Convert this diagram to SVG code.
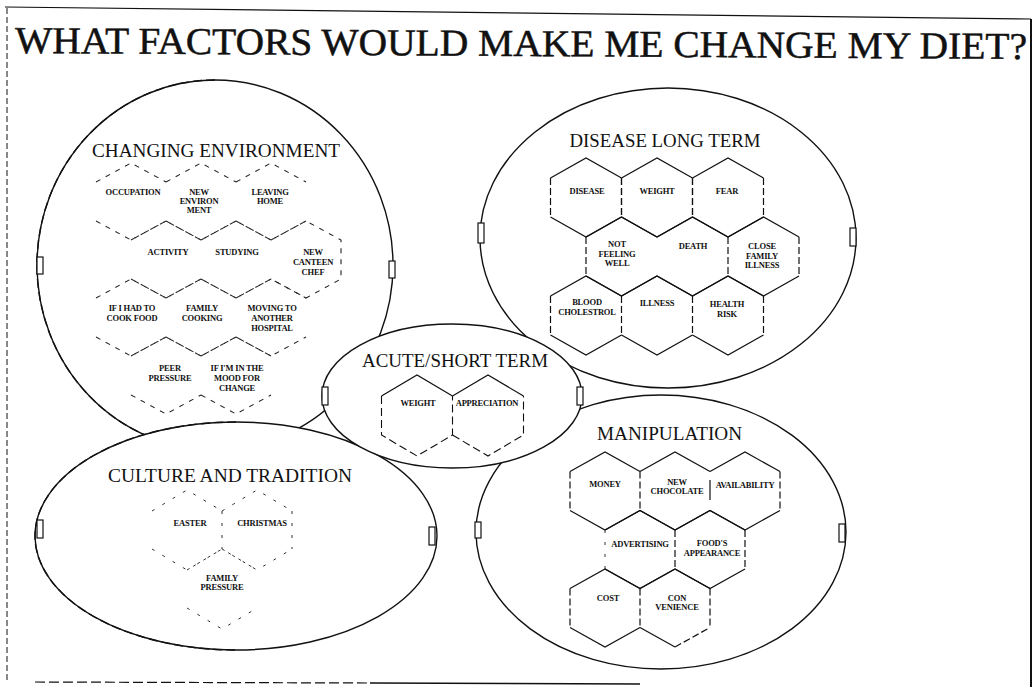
<svg xmlns="http://www.w3.org/2000/svg" width="1034" height="687" viewBox="0 0 1034 687">
<style>
.ell{fill:#fff;stroke:#111;stroke-width:1.4}
.ell-d{fill:none;stroke:#111;stroke-width:1.4;stroke-dasharray:9 4}
.hdl{fill:#fff;stroke:#111;stroke-width:1.2}
.hd{font-family:"Liberation Serif","Times New Roman",serif;font-size:19px;fill:#111;text-anchor:middle}
.lb{font-family:"Liberation Serif","Times New Roman",serif;font-size:8.5px;font-weight:bold;fill:#111;text-anchor:middle;letter-spacing:-0.2px}
.hs{fill:none;stroke:#111;stroke-width:1.2}
.hv{fill:none;stroke:#111;stroke-width:1.2;stroke-dasharray:7 3}
.cs{fill:none;stroke:#222;stroke-width:1.1;stroke-dasharray:5 6}
.fs{fill:none;stroke:#333;stroke-width:1;stroke-dasharray:3 9}
.as{fill:none;stroke:#111;stroke-width:1.1;stroke-dasharray:8 4}
.frame{fill:none;stroke:#111}
</style>

<g id="frame">
<path class="frame" d="M5,7 L1031,19" stroke-width="1.2"/>
<path class="frame" d="M1031,19 V687" stroke-width="2"/>
<path class="frame" d="M7,8 V681" stroke-width="1" stroke-dasharray="6 3"/>
<path class="frame" d="M35,682 L370,683" stroke-width="1.2" stroke-dasharray="10 4"/>
<path class="frame" d="M370,683 L640,684" stroke-width="1.6"/>
</g>

<text id="title" x="15" y="53" font-family="'Liberation Serif','Times New Roman',serif" font-size="38" fill="#111" stroke="#111" stroke-width="0.5" textLength="1012" lengthAdjust="spacingAndGlyphs" transform="rotate(0.34 15 53)">WHAT FACTORS WOULD MAKE ME CHANGE MY DIET?</text>

<g id="changing-environment">
<ellipse class="ell" cx="215" cy="265" rx="178" ry="185"/>
<path class="ell-d" d="M215,80 A178,185 0 0,0 215,450"/>
<rect class="hdl" x="37" y="257" width="6" height="17"/>
<rect class="hdl" x="389" y="261" width="6" height="17"/>
<text class="hd" x="216" y="157" textLength="248" lengthAdjust="spacingAndGlyphs">CHANGING ENVIRONMENT</text>
<g id="ce-occupation"><path class="cs" d="M96,182 L131,163 L166,182 M96,221 L131,240 L166,221"/><text class="lb" x="133" y="195">OCCUPATION</text></g>
<g id="ce-new-environment"><path class="cs" d="M166,182 L201,163 L236,182 M166,221 L201,240 L236,221"/><text class="lb" x="199" y="195">NEW</text><text class="lb" x="199" y="204">ENVIRON</text><text class="lb" x="199" y="213">MENT</text></g>
<g id="ce-leaving-home"><path class="cs" d="M236,182 L271,163 L306,182 M236,221 L271,240 L306,221"/><text class="lb" x="270" y="195">LEAVING</text><text class="lb" x="270" y="204">HOME</text></g>
<g id="ce-activity"><path class="cs" d="M131,240 L166,221 L201,240 M131,279 L166,298 L201,279"/><text class="lb" x="168" y="255">ACTIVITY</text></g>
<g id="ce-studying"><path class="cs" d="M201,240 L236,221 L271,240 M201,279 L236,298 L271,279"/><text class="lb" x="237" y="255">STUDYING</text></g>
<g id="ce-new-canteen-chef"><path class="cs" d="M271,240 L306,221 L341,240 V279 L306,298 L271,279"/><text class="lb" x="313" y="255">NEW</text><text class="lb" x="313" y="265">CANTEEN</text><text class="lb" x="313" y="275">CHEF</text></g>
<g id="ce-cook-food"><path class="cs" d="M96,298 L131,279 L166,298 M96,337 L131,356 L166,337"/><text class="lb" x="132" y="311">IF I HAD TO</text><text class="lb" x="132" y="321">COOK FOOD</text></g>
<g id="ce-family-cooking"><path class="cs" d="M166,298 L201,279 L236,298 M166,337 L201,356 L236,337"/><text class="lb" x="202" y="311">FAMILY</text><text class="lb" x="202" y="321">COOKING</text></g>
<g id="ce-moving-hospital"><path class="cs" d="M236,298 L271,279 L306,298 M236,337 L271,356 L306,337"/><text class="lb" x="272" y="311">MOVING TO</text><text class="lb" x="272" y="321">ANOTHER</text><text class="lb" x="272" y="331">HOSPITAL</text></g>
<g id="ce-peer-pressure"><path class="cs" d="M131,356 L166,337 L201,356 M131,395 L166,414 L201,395"/><text class="lb" x="170" y="371">PEER</text><text class="lb" x="170" y="381">PRESSURE</text></g>
<g id="ce-mood-change"><path class="cs" d="M201,356 L236,337 L271,356 M201,395 L236,414 L271,395"/><text class="lb" x="237" y="371">IF I'M IN THE</text><text class="lb" x="237" y="381">MOOD FOR</text><text class="lb" x="237" y="391">CHANGE</text></g>
</g>

<g id="disease-long-term">
<ellipse class="ell" cx="668" cy="238" rx="188" ry="150"/>
<rect class="hdl" x="478" y="223" width="6" height="20"/>
<rect class="hdl" x="850" y="228" width="6" height="18"/>
<text class="hd" x="665" y="147" textLength="191" lengthAdjust="spacingAndGlyphs">DISEASE LONG TERM</text>
<g id="dl-disease"><path class="hs" d="M550.5,178 L586,158 L621.5,178 M550.5,217 L586,237 L621.5,217"/><path class="hv" d="M550.5,178 V217 M621.5,178 V217"/><text class="lb" x="587" y="194">DISEASE</text></g>
<g id="dl-weight"><path class="hs" d="M621.5,178 L657,158 L692.5,178 M621.5,217 L657,237 L692.5,217"/><path class="hv" d="M621.5,178 V217 M692.5,178 V217"/><text class="lb" x="657" y="194">WEIGHT</text></g>
<g id="dl-fear"><path class="hs" d="M692.5,178 L728,158 L763.5,178 M692.5,217 L728,237 L763.5,217"/><path class="hv" d="M692.5,178 V217 M763.5,178 V217"/><text class="lb" x="727" y="194">FEAR</text></g>
<g id="dl-not-feeling-well"><path class="hs" d="M586,237 L621.5,217 L657,237 M586,276 L621.5,296 L657,276"/><path class="hv" d="M586,237 V276"/><text class="lb" x="617" y="247">NOT</text><text class="lb" x="617" y="256.5">FEELING</text><text class="lb" x="617" y="266">WELL</text></g>
<g id="dl-death"><path class="hs" d="M657,237 L692.5,217 L728,237 M657,276 L692.5,296 L728,276"/><path class="hv" d="M728,237 V276"/><text class="lb" x="693" y="249">DEATH</text></g>
<g id="dl-close-family-illness"><path class="hs" d="M728,237 L763.5,217 L799,237 M728,276 L763.5,296 L799,276"/><path class="hv" d="M799,237 V276"/><text class="lb" x="762" y="249">CLOSE</text><text class="lb" x="762" y="258.5">FAMILY</text><text class="lb" x="762" y="268">ILLNESS</text></g>
<g id="dl-blood-cholestrol"><path class="hs" d="M550.5,296 L586,276 L621.5,296 M550.5,335 L586,355 L621.5,335"/><path class="hv" d="M550.5,296 V335 M621.5,296 V335"/><text class="lb" x="587" y="305">BLOOD</text><text class="lb" x="587" y="314.5">CHOLESTROL</text></g>
<g id="dl-illness"><path class="hs" d="M621.5,296 L657,276 L692.5,296 M621.5,335 L657,355 L692.5,335"/><path class="hv" d="M692.5,296 V335"/><text class="lb" x="657" y="306">ILLNESS</text></g>
<g id="dl-health-risk"><path class="hs" d="M692.5,296 L728,276 L763.5,296 M692.5,335 L728,355 L763.5,335"/><path class="hv" d="M763.5,296 V335"/><text class="lb" x="727" y="307">HEALTH</text><text class="lb" x="727" y="316.5">RISK</text></g>
</g>

<g id="culture-and-tradition">
<ellipse class="ell" cx="236" cy="536" rx="201" ry="114"/>
<path class="ell-d" d="M236,422 A201,114 0 0,0 236,650"/>
<rect class="hdl" x="37" y="520" width="6" height="18"/>
<rect class="hdl" x="429" y="527" width="6" height="18"/>
<text class="hd" x="230" y="482" textLength="244" lengthAdjust="spacingAndGlyphs">CULTURE AND TRADITION</text>
<g id="ct-easter"><path class="fs" d="M152,511 L187,490 L222,511 M152,549 L187,570 L222,549 M222,511 V549"/><text class="lb" x="190" y="526">EASTER</text></g>
<g id="ct-christmas"><path class="fs" d="M222,511 L257,490 L292,511 M222,549 L257,570 L292,549 M292,511 V549"/><text class="lb" x="262" y="526">CHRISTMAS</text></g>
<g id="ct-family-pressure"><path class="fs" d="M187,570 L222,549 L257,570 M187,608 L222,629 L257,608"/><text class="lb" x="222" y="581">FAMILY</text><text class="lb" x="222" y="590">PRESSURE</text></g>
</g>

<g id="manipulation">
<ellipse class="ell" cx="661" cy="532" rx="185" ry="137"/>
<rect class="hdl" x="475" y="522" width="6" height="16"/>
<rect class="hdl" x="839" y="524" width="6" height="18"/>
<text class="hd" x="669.5" y="440" textLength="145" lengthAdjust="spacingAndGlyphs">MANIPULATION</text>
<g id="mp-money"><path class="hs" d="M570,471.5 L605,452 L640,471.5 M570,510.5 L605,530 L640,510.5"/><path class="hv" d="M570,471.5 V510.5 M640,471.5 V510.5"/><text class="lb" x="605" y="487">MONEY</text></g>
<g id="mp-new-chocolate"><path class="hs" d="M640,471.5 L675,452 L710,471.5 M640,510.5 L675,530 L710,510.5 M710,480 V500"/><text class="lb" x="677" y="485">NEW</text><text class="lb" x="677" y="493.5">CHOCOLATE</text></g>
<g id="mp-availability"><path class="hs" d="M710,471.5 L745,452 L780,471.5 M710,510.5 L745,530 L780,510.5"/><path class="hv" d="M780,471.5 V510.5"/><text class="lb" x="745" y="488">AVAILABILITY</text></g>
<g id="mp-advertising"><path class="hs" d="M605,530 L640,510.5 L675,530 M605,569 L640,588.5 L675,569"/><path class="fs" d="M605,530 V569"/><text class="lb" x="640" y="547">ADVERTISING</text></g>
<g id="mp-foods-appearance"><path class="hs" d="M675,530 L710,510.5 L745,530 M675,569 L710,588.5 L745,569"/><path class="hv" d="M675,530 V569 M745,530 V569"/><text class="lb" x="712" y="546">FOOD'S</text><text class="lb" x="712" y="555.5">APPEARANCE</text></g>
<g id="mp-cost"><path class="hs" d="M570,588.5 L605,569 L640,588.5 M570,627.5 L605,647 L640,627.5"/><path class="hv" d="M570,588.5 V627.5 M640,588.5 V627.5"/><text class="lb" x="608" y="601">COST</text></g>
<g id="mp-convenience"><path class="hs" d="M640,588.5 L675,569 L710,588.5 M640,627.5 L675,647"/><path class="hv" d="M675,647 L710,627.5 M710,588.5 V627.5"/><text class="lb" x="677" y="601">CON</text><text class="lb" x="677" y="610">VENIENCE</text></g>
</g>

<g id="acute-short-term">
<ellipse class="ell" cx="452" cy="396" rx="130" ry="72"/>
<rect class="hdl" x="322" y="387" width="6" height="18"/>
<rect class="hdl" x="577" y="387" width="6" height="18"/>
<text class="hd" x="455" y="367" textLength="186" lengthAdjust="spacingAndGlyphs">ACUTE/SHORT TERM</text>
<g id="ac-weight"><path class="hs" d="M381.5,396 L417,375 L452.5,396"/><path class="as" d="M381.5,396 V435 L417,456 L452.5,435 V396"/><text class="lb" x="418" y="406">WEIGHT</text></g>
<g id="ac-appreciation"><path class="hs" d="M452.5,396 L488,375 L523.5,396"/><path class="as" d="M452.5,435 L488,456 L523.5,435 V396"/><text class="lb" x="487" y="406">APPRECIATION</text></g>
</g>

<g id="connectors"/>
</svg>
